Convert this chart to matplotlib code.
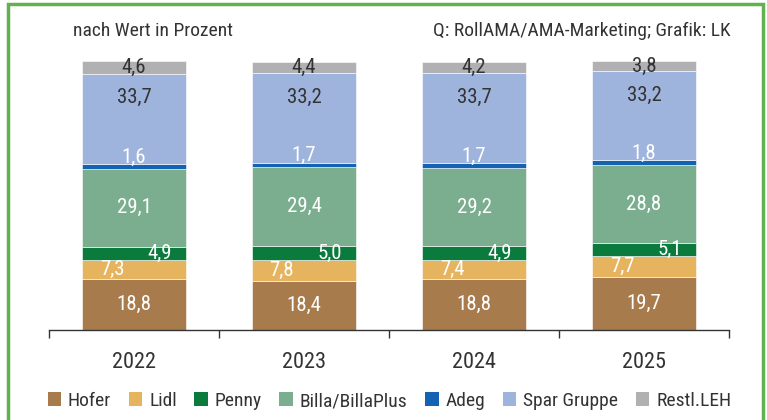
import numpy as np
import matplotlib.pyplot as plt
from matplotlib.patches import Rectangle, Patch

plt.rcParams['font.family'] = ['Roboto Condensed', 'DejaVu Sans']

# Daten
jahre = ['2022', '2023', '2024', '2025']
kategorien = ['Hofer', 'Lidl', 'Penny', 'Billa/BillaPlus', 'Adeg', 'Spar Gruppe', 'Restl.LEH']
hofer = [18.8, 18.4, 18.8, 19.7]
lidl = [7.3, 7.8, 7.4, 7.7]
penny = [4.9, 5.0, 4.9, 5.1]
billa = [29.1, 29.4, 29.2, 28.8]
adeg = [1.6, 1.7, 1.7, 1.8]
spar = [33.7, 33.2, 33.7, 33.2]
rest = [4.6, 4.4, 4.2, 3.8]

serien = [hofer, lidl, penny, billa, adeg, spar, rest]
farben = ['#a87b4c', '#e6b45f', '#0b7a3d', '#7aae8f', '#1462b2', '#9fb4dd', '#b1b1b4']
txtfarbe = ['white', 'white', 'white', 'white', 'white', '#333333', '#333333']

fig = plt.figure(figsize=(7.67, 4.2), dpi=100)
ax = fig.add_axes([49/767, 1 - 330/420, 680/767, 270/420])

x = np.arange(len(jahre))
unten = np.zeros(len(jahre))
for i, (werte, farbe) in enumerate(zip(serien, farben)):
    werte = np.array(werte)
    ax.bar(x, werte, 0.61, bottom=unten, color=farbe, edgecolor='white', linewidth=0.4)
    for j in range(len(jahre)):
        w = werte[j]
        lbl = f'{w:.1f}'.replace('.', ',')
        xp, yp = x[j], unten[j] + w / 2
        if kategorien[i] == 'Lidl':
            xp -= 0.13
        elif kategorien[i] == 'Penny':
            xp += 0.15
        elif kategorien[i] == 'Adeg':
            yp = unten[j] + w + 2.6
        elif kategorien[i] == 'Spar Gruppe':
            yp = unten[j] + w - 9
        ax.text(xp, yp, lbl, ha='center', va='center', fontsize=15,
                color=txtfarbe[i])
    unten += werte

ax.set_xlim(-0.5, 3.5)
ax.set_ylim(0, 100.5)
for s in ['left', 'right', 'top']:
    ax.spines[s].set_visible(False)
ax.spines['bottom'].set_color('#333333')
ax.spines['bottom'].set_linewidth(1.0)
ax.set_yticks([])
ax.set_xticks(np.arange(-0.5, 4, 1))
ax.set_xticklabels([])
ax.tick_params(axis='x', length=6, color='#333333', width=1.0)
ax.set_xticks(x, minor=True)
ax.set_xticklabels(jahre, minor=True, fontsize=16, color='#333333')
ax.tick_params(axis='x', which='minor', length=0, pad=16)

fig.text(73/767, 1 - 31/420, 'nach Wert in Prozent', fontsize=14,
         color='#333333', va='center', ha='left')
fig.text(731/767, 1 - 31/420, 'Q: RollAMA/AMA-Marketing; Grafik: LK', fontsize=14,
         color='#333333', va='center', ha='right')

handles = [Patch(facecolor=f, edgecolor='none') for f in farben]
fig.legend(handles, kategorien, loc='center left', bbox_to_anchor=(30/767, 1 - 401/420),
           ncol=7, frameon=False, fontsize=14, handlelength=0.7, handleheight=0.7,
           handletextpad=0.35, columnspacing=0.9, labelcolor='#333333')

# gruener Rahmen
fig.patches.append(Rectangle((8/767, -0.02), 755/767, 1.01, transform=fig.transFigure,
                             fill=False, edgecolor='#62b04e', linewidth=2.5))

fig.savefig('out.png', dpi=100)
